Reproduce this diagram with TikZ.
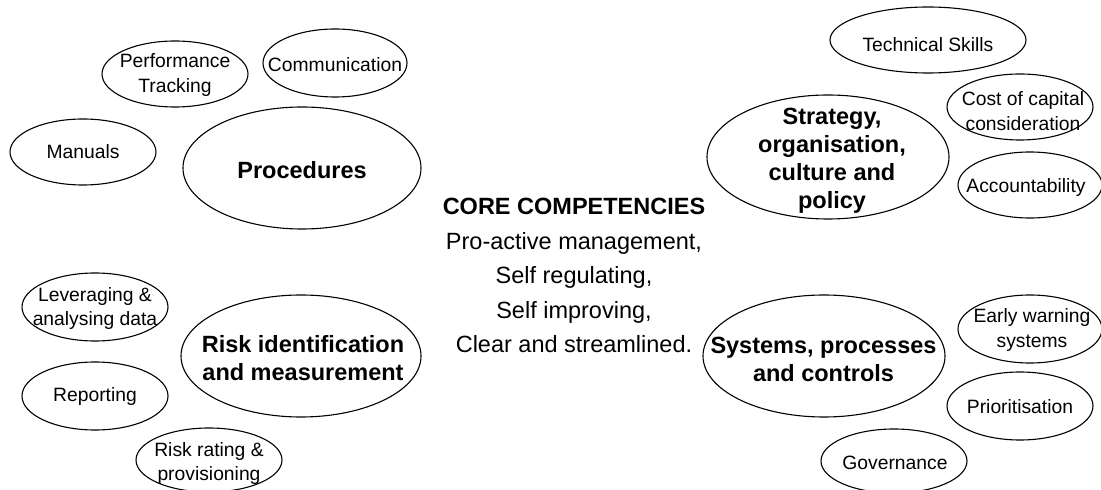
\documentclass[tikz,border=0pt]{standalone}
\usepackage{fontspec}
\setmainfont{Liberation Sans}
\usetikzlibrary{shapes.geometric}
\tikzset{
  bubble/.style={draw=black, line width=1.1pt, ellipse, inner sep=0pt},
  smalltext/.style={align=center, inner sep=0pt, font=\fontsize{19.3}{24.5}\selectfont},
  bigtext/.style={align=center, inner sep=0pt, font=\fontsize{23.5}{28}\selectfont\bfseries},
  coretext/.style={align=center, inner sep=0pt, font=\fontsize{23.5}{34.5}\selectfont},
}
\begin{document}
\begin{tikzpicture}[x=1pt,y=1pt]
\useasboundingbox (0,0) rectangle (1101,490);
% left top group
\node[bubble, minimum width=146, minimum height=66] (perf) at (175,416) {};
\node[smalltext] (perft) at (175,415) {Performance\\Tracking};
\node[bubble, minimum width=144, minimum height=68] (comm) at (335,427) {};
\node[smalltext] (commt) at (335,425) {Communication};
\node[bubble, minimum width=146, minimum height=66] (man) at (83,338) {};
\node[smalltext] (mant) at (83,338) {Manuals};
\node[bubble, minimum width=238, minimum height=122] (proc) at (302,322) {};
\node[bigtext] (proct) at (302,320) {Procedures};
% right top group
\node[bubble, minimum width=196, minimum height=66] (tech) at (928,450) {};
\node[smalltext] (techt) at (928,445) {Technical Skills};
\node[bubble, minimum width=146, minimum height=66] (cost) at (1020,383) {};
\node[smalltext] (costt) at (1023,379) {Cost of capital\\consideration};
\node[bubble, minimum width=242, minimum height=124] (strat) at (828,333) {};
\node[bigtext] (stratt) at (832,329.5) {Strategy,\\organisation,\\culture and\\policy};
\node[bubble, minimum width=144, minimum height=66] (acct) at (1030,305) {};
\node[smalltext] (acctt) at (1026,302) {Accountability};
% left bottom group
\node[bubble, minimum width=146, minimum height=68] (lev) at (95,183) {};
\node[smalltext] (levt) at (95,181.5) {Leveraging \&\\analysing data};
\node[bubble, minimum width=240, minimum height=122] (risk) at (301,134) {};
\node[bigtext] (riskt) at (303,131.5) {Risk identification\\and measurement};
\node[bubble, minimum width=146, minimum height=68] (rep) at (95,94) {};
\node[smalltext] (rept) at (95,93) {Reporting};
\node[bubble, minimum width=146, minimum height=64] (rr) at (209,30) {};
\node[smalltext] (rrt) at (209,26.5) {Risk rating \&\\provisioning};
% right bottom group
\node[bubble, minimum width=242, minimum height=122] (sys) at (824,134) {};
\node[bigtext] (syst) at (823.5,131) {Systems, processes\\and controls};
\node[bubble, minimum width=144, minimum height=68] (early) at (1030,161) {};
\node[smalltext] (earlyt) at (1032,160) {Early warning\\systems};
\node[bubble, minimum width=146, minimum height=68] (prior) at (1020,84) {};
\node[smalltext] (priort) at (1020,83) {Prioritisation};
\node[bubble, minimum width=146, minimum height=64] (gov) at (894,29) {};
\node[smalltext] (govt) at (895,27) {Governance};
% centre
\node[coretext] (core) at (574,214.5) {\textbf{CORE COMPETENCIES}\\Pro-active management,\\Self regulating,\\Self improving,\\Clear and streamlined.};
\end{tikzpicture}
\end{document}
